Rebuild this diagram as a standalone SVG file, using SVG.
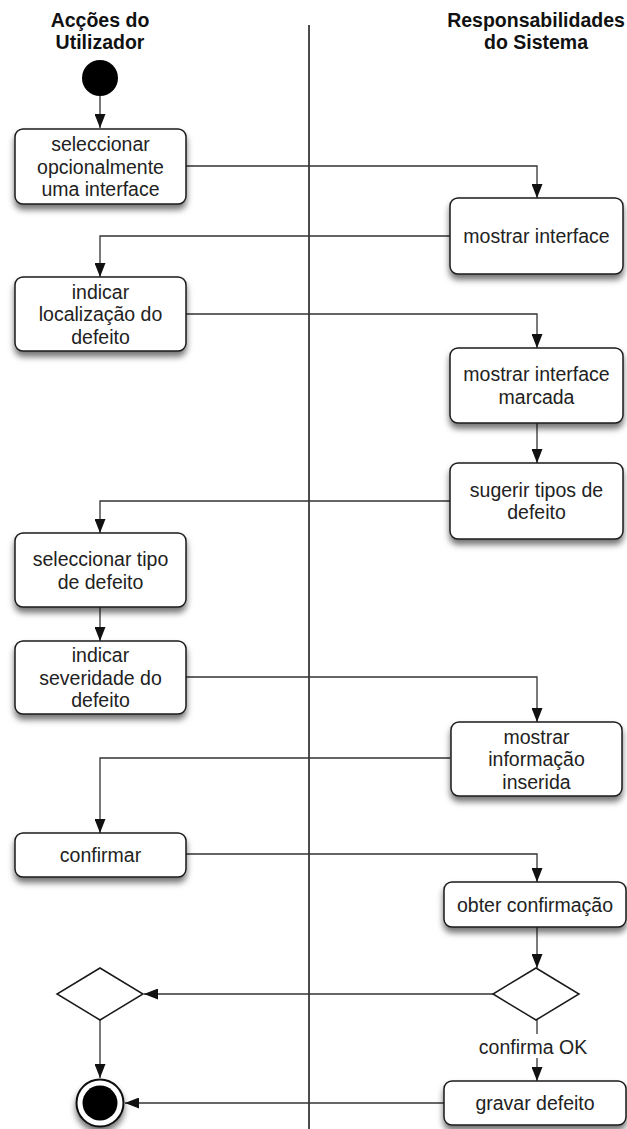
<svg xmlns="http://www.w3.org/2000/svg" width="627" height="1129" viewBox="0 0 627 1129">
  <style>
    .box { fill: #ffffff; stroke: #1a1a1a; stroke-width: 1.5; filter: url(#shadow); }
    .lbl { font-family: "Liberation Sans", Arial, sans-serif; font-size: 19.5px; fill: #222222; text-anchor: middle; }
    .hdr { font-family: "Liberation Sans", Arial, sans-serif; font-size: 19.5px; font-weight: bold; fill: #111111; text-anchor: middle; }
    .edge { fill: none; stroke: #333333; stroke-width: 1.3; marker-end: url(#arrow); }
    .plain { fill: none; stroke: #333333; stroke-width: 1.3; }
    .dia { fill: #ffffff; stroke: #1a1a1a; stroke-width: 1.5; }
  </style>
  <defs>
    <filter id="shadow" x="-20%" y="-20%" width="140%" height="170%">
      <feDropShadow dx="0" dy="5" stdDeviation="3.2" flood-color="#000000" flood-opacity="0.55"/>
    </filter>
    <marker id="arrow" markerUnits="userSpaceOnUse" markerWidth="14" markerHeight="11" refX="14" refY="5.5" orient="auto">
      <path d="M0,0 L14,5.5 L0,11 z" fill="#111111"/>
    </marker>
  </defs>

  <rect width="627" height="1129" fill="#ffffff"/>

  <!-- swimlane headers and divider -->
  <g id="lanes">
    <text class="hdr" x="100" y="27">Acções do</text>
    <text class="hdr" x="100" y="49">Utilizador</text>
    <text class="hdr" x="536" y="27">Responsabilidades</text>
    <text class="hdr" x="536" y="49">do Sistema</text>
    <line x1="309" y1="25" x2="309" y2="1129" stroke="#111111" stroke-width="1.5"/>
  </g>

  <!-- connectors -->
  <g id="connectors">
    <path class="edge" d="M100,96 L100,128"/>
    <path class="edge" d="M186,166 L537,166 L537,198"/>
    <path class="edge" d="M450,236 L100,236 L100,277"/>
    <path class="edge" d="M186,314 L537,314 L537,348"/>
    <path class="edge" d="M537,423 L537,463"/>
    <path class="edge" d="M450,501 L100,501 L100,533"/>
    <path class="edge" d="M100,607 L100,641"/>
    <path class="edge" d="M186,677 L537,677 L537,722"/>
    <path class="edge" d="M450,758 L100,758 L100,833"/>
    <path class="edge" d="M186,854 L537,854 L537,882"/>
    <path class="edge" d="M537,927 L537,968"/>
    <path class="edge" d="M493,994 L144,994"/>
    <path class="plain" d="M537,1020 L537,1034"/>
    <path class="edge" d="M537,1058 L537,1081"/>
    <text class="lbl" x="533" y="1054">confirma OK</text>
    <path class="edge" d="M100,1020 L100,1078"/>
    <path class="edge" d="M444,1103 L125,1103"/>
  </g>

  <!-- start -->
  <g id="start">
    <circle cx="100" cy="78" r="18" fill="#000000"/>
  </g>

  <!-- user actions -->
  <g id="seleccionar-interface">
    <rect class="box" x="15" y="129" width="171" height="75" rx="8"/>
    <text class="lbl" x="100.5" y="151">seleccionar</text>
    <text class="lbl" x="100.5" y="173.5">opcionalmente</text>
    <text class="lbl" x="100.5" y="196">uma interface</text>
  </g>
  <g id="indicar-localizacao">
    <rect class="box" x="15" y="277" width="171" height="74" rx="8"/>
    <text class="lbl" x="100.5" y="298.5">indicar</text>
    <text class="lbl" x="100.5" y="321">localização do</text>
    <text class="lbl" x="100.5" y="343.5">defeito</text>
  </g>
  <g id="seleccionar-tipo">
    <rect class="box" x="15" y="533" width="171" height="74" rx="8"/>
    <text class="lbl" x="100.5" y="566">seleccionar tipo</text>
    <text class="lbl" x="100.5" y="588.5">de defeito</text>
  </g>
  <g id="indicar-severidade">
    <rect class="box" x="15" y="641" width="171" height="73" rx="8"/>
    <text class="lbl" x="100.5" y="662">indicar</text>
    <text class="lbl" x="100.5" y="684.5">severidade do</text>
    <text class="lbl" x="100.5" y="707">defeito</text>
  </g>
  <g id="confirmar">
    <rect class="box" x="15" y="833" width="171" height="44" rx="8"/>
    <text class="lbl" x="100.5" y="862">confirmar</text>
  </g>

  <!-- system responsibilities -->
  <g id="mostrar-interface">
    <rect class="box" x="450" y="198" width="173" height="76" rx="8"/>
    <text class="lbl" x="536.5" y="243">mostrar interface</text>
  </g>
  <g id="mostrar-interface-marcada">
    <rect class="box" x="450" y="348" width="173" height="75" rx="8"/>
    <text class="lbl" x="536.5" y="381">mostrar interface</text>
    <text class="lbl" x="536.5" y="403.5">marcada</text>
  </g>
  <g id="sugerir-tipos">
    <rect class="box" x="450" y="463" width="173" height="76" rx="8"/>
    <text class="lbl" x="536.5" y="496.5">sugerir tipos de</text>
    <text class="lbl" x="536.5" y="519">defeito</text>
  </g>
  <g id="mostrar-informacao">
    <rect class="box" x="451" y="722" width="171" height="74" rx="8"/>
    <text class="lbl" x="536.5" y="743.5">mostrar</text>
    <text class="lbl" x="536.5" y="766">informação</text>
    <text class="lbl" x="536.5" y="788.5">inserida</text>
  </g>
  <g id="obter-confirmacao">
    <rect class="box" x="444" y="882" width="182" height="45" rx="8"/>
    <text class="lbl" x="535" y="911.5">obter confirmação</text>
  </g>
  <g id="decisao-confirmacao">
    <polygon class="dia" points="536,968 579,994 536,1020 493,994"/>
  </g>
  <g id="gravar-defeito">
    <rect class="box" x="444" y="1081" width="182" height="44" rx="8"/>
    <text class="lbl" x="535" y="1110">gravar defeito</text>
  </g>

  <!-- merge and end -->
  <g id="juncao">
    <polygon class="dia" points="100,968 143,994 100,1020 57,994"/>
  </g>
  <g id="fim">
    <circle cx="100" cy="1103" r="23.5" fill="#ffffff" stroke="#111111" stroke-width="2" filter="url(#shadow)"/>
    <circle cx="100" cy="1103" r="17.5" fill="#000000"/>
  </g>
</svg>
